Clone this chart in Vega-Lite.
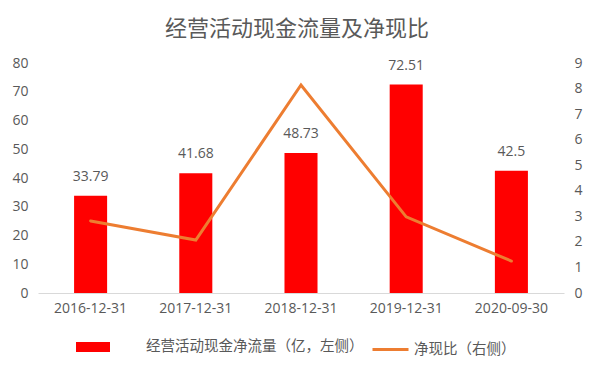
{
  "$schema": "https://vega.github.io/schema/vega-lite/v6.json",
  "width": 526,
  "height": 230,
  "autosize": {"type": "none"},
  "padding": {"left": 38, "top": 63, "right": 31, "bottom": 79},
  "background": "white",
  "title": {
    "text": "经营活动现金流量及净现比",
    "fontSize": 22,
    "font": "Noto Sans CJK SC",
    "fontWeight": "normal",
    "color": "#595959",
    "anchor": "middle",
    "offset": 15,
    "dx": -4
  },
  "data": {
    "values": [
      {"date": "2016-12-31", "cash": 33.79, "ratio": 2.82},
      {"date": "2017-12-31", "cash": 41.68, "ratio": 2.07},
      {"date": "2018-12-31", "cash": 48.73, "ratio": 8.14},
      {"date": "2019-12-31", "cash": 72.51, "ratio": 2.98},
      {"date": "2020-09-30", "cash": 42.5, "ratio": 1.25}
    ]
  },
  "encoding": {
    "x": {
      "field": "date",
      "type": "nominal",
      "sort": null,
      "scale": {"paddingInner": 0.686, "paddingOuter": 0.343},
      "axis": {
        "title": null,
        "labelAngle": 0,
        "ticks": false,
        "domainColor": "#d9d9d9",
        "domainWidth": 1,
        "labelFont": "Open Sans",
        "labelFontSize": 14,
        "labelColor": "#595959",
        "labelPadding": 8,
        "grid": false
      }
    }
  },
  "layer": [
    {
      "encoding": {
        "y": {
          "field": "cash",
          "type": "quantitative",
          "scale": {"domain": [0, 80], "nice": false},
          "axis": {
            "title": null,
            "values": [0, 10, 20, 30, 40, 50, 60, 70, 80],
            "ticks": false,
            "domain": false,
            "grid": false,
            "labelFont": "Open Sans",
            "labelFontSize": 14,
            "labelColor": "#595959",
            "labelPadding": 10
          }
        }
      },
      "layer": [
        {
          "mark": {"type": "bar"},
          "encoding": {
            "color": {
              "datum": "经营活动现金净流量（亿，左侧）",
              "scale": {"range": ["#FF0000"]},
              "legend": {
                "title": null,
                "orient": "none",
                "legendX": 38,
                "legendY": 267,
                "padding": 0,
                "symbolType": "M-1,-0.294H1V0.294H-1Z",
                "symbolSize": 1156,
                "symbolStrokeWidth": 0,
                "symbolOpacity": 1,
                "labelOffset": 36,
                "labelFont": "Noto Sans CJK SC",
                "labelFontSize": 14.5,
                "labelColor": "#595959",
                "labelLimit": 400
              }
            }
          }
        },
        {
          "mark": {"type": "text", "baseline": "alphabetic", "dy": -15, "font": "Open Sans", "fontSize": 14, "color": "#595959"},
          "encoding": {
            "text": {"field": "cash", "type": "quantitative"}
          }
        }
      ]
    },
    {
      "mark": {"type": "line", "strokeWidth": 3, "strokeCap": "round"},
      "encoding": {
        "y": {
          "field": "ratio",
          "type": "quantitative",
          "scale": {"domain": [0, 9], "nice": false},
          "axis": {
            "title": null,
            "orient": "right",
            "values": [0, 1, 2, 3, 4, 5, 6, 7, 8, 9],
            "ticks": false,
            "domain": false,
            "grid": false,
            "labelFont": "Open Sans",
            "labelFontSize": 14,
            "labelColor": "#595959",
            "labelPadding": 10
          }
        },
        "stroke": {
          "datum": "净现比（右侧）",
          "scale": {"range": ["#ED7D31"]},
          "legend": {
            "title": null,
            "orient": "none",
            "legendX": 333,
            "legendY": 267,
            "padding": 0,
            "symbolType": "stroke",
            "symbolSize": 1296,
            "symbolStrokeWidth": 3,
            "labelOffset": 4,
            "labelFont": "Noto Sans CJK SC",
            "labelFontSize": 14.5,
            "labelColor": "#595959",
            "labelLimit": 400
          }
        }
      }
    }
  ],
  "resolve": {"scale": {"y": "independent"}},
  "config": {"view": {"stroke": null}}
}
